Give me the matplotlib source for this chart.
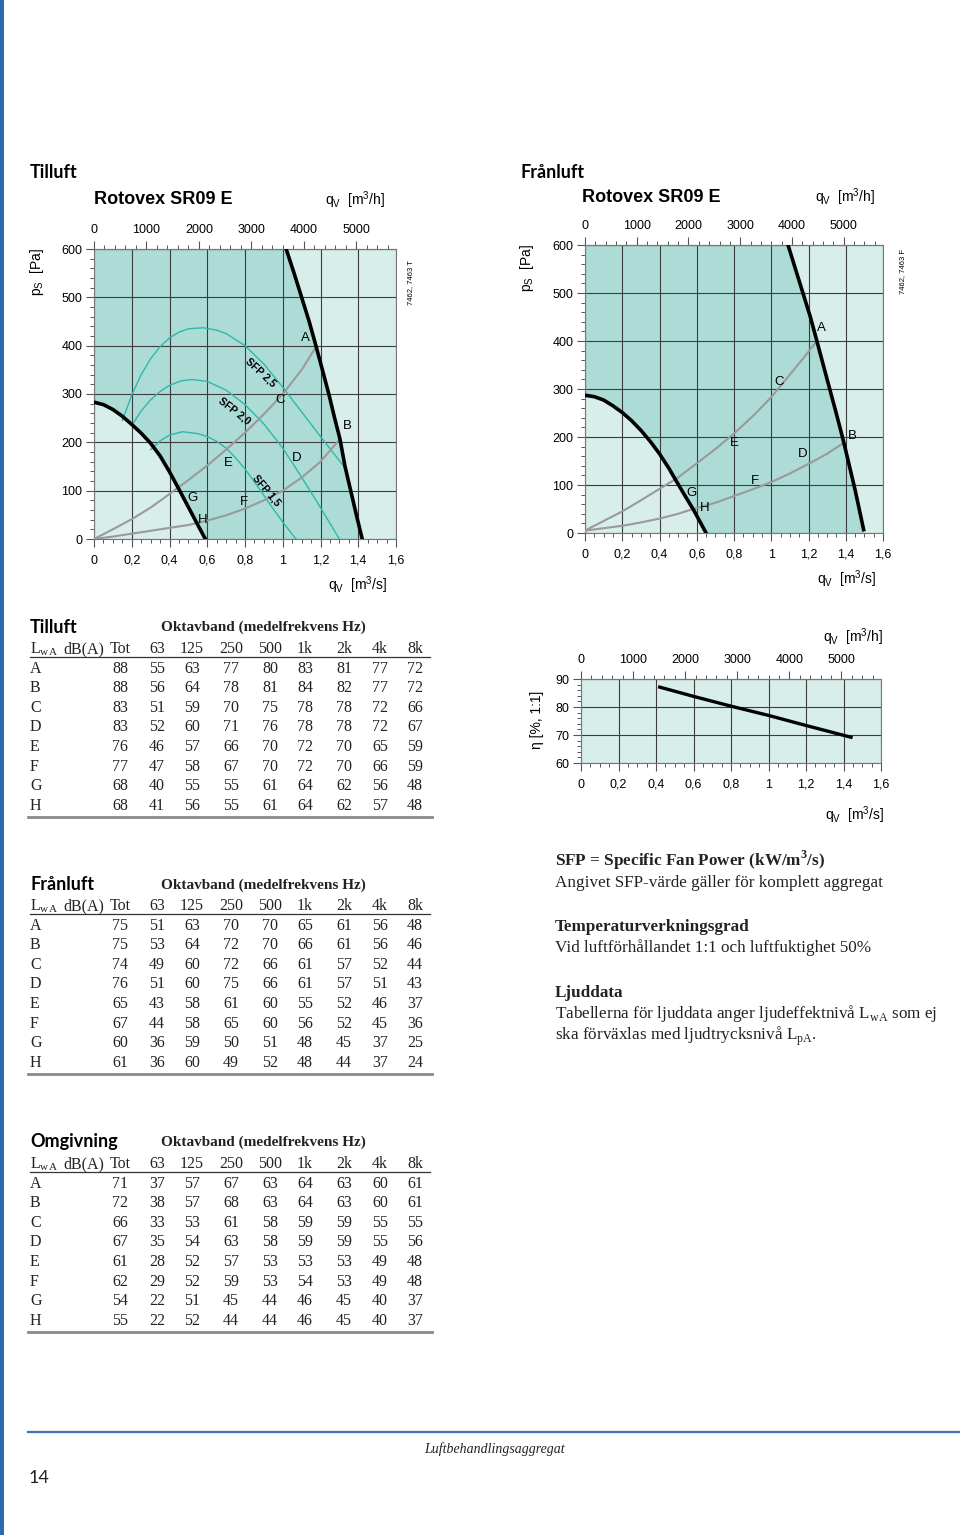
import numpy as np
import matplotlib
matplotlib.use("Agg")
import matplotlib.pyplot as plt
from matplotlib.ticker import MultipleLocator, FixedLocator

W, H = 960, 1535

# ---------------- data read from the page ----------------
# Tilluft fan chart (qv m3/s, ps Pa)
t_left_x = [0, 0.05, 0.1, 0.15, 0.2, 0.25, 0.3, 0.35, 0.4, 0.45, 0.5, 0.55, 0.59]
t_left_y = [283, 278, 268, 254, 237, 219, 198, 172, 139, 103, 66, 29, 0]
t_right_x = [1.018, 1.06, 1.10, 1.14, 1.177, 1.21, 1.244, 1.275, 1.303, 1.33, 1.36, 1.39, 1.421]
t_right_y = [600, 550, 500, 450, 398, 350, 300, 250, 207, 150, 100, 50, 0]
t_sys1_x = [0, 0.1, 0.2, 0.3, 0.4, 0.5, 0.6, 0.7, 0.8, 0.9, 1.0, 1.1, 1.177]
t_sys1_y = [0, 20, 41, 65, 93, 122, 152, 185, 220, 258, 300, 350, 398]
t_sys2_x = [0, 0.1, 0.2, 0.3, 0.4, 0.5, 0.6, 0.7, 0.8, 0.9, 1.0, 1.1, 1.2, 1.303]
t_sys2_y = [0, 5, 11, 17, 23, 29, 38, 49, 63, 80, 100, 127, 160, 207]
sfp25_x = [0.15, 0.2, 0.25, 0.3, 0.35, 0.4, 0.45, 0.5, 0.58, 0.65, 0.7, 0.8, 0.9, 1.0,
           1.1, 1.2, 1.3, 1.34]
sfp25_y = [245, 298, 340, 373, 398, 416, 428, 435, 437, 432, 425, 400, 362, 314,
           263, 212, 162, 142]
sfp20_x = [0.2, 0.25, 0.3, 0.35, 0.4, 0.46, 0.52, 0.6, 0.7, 0.8, 0.9, 1.0, 1.1, 1.2, 1.3]
sfp20_y = [235, 265, 288, 305, 318, 327, 330, 326, 308, 278, 238, 188, 128, 65, 0]
sfp15_x = [0.3, 0.35, 0.4, 0.47, 0.55, 0.6, 0.65, 0.7, 0.75, 0.8, 0.85, 0.9, 0.95, 1.0, 1.07]
sfp15_y = [185, 203, 215, 222, 218, 212, 202, 188, 168, 145, 118, 90, 62, 35, 0]
t_labels = ["A", "B", "C", "D", "E", "F", "G", "H"]
t_label_x = [1.12, 1.34, 0.985, 1.076, 0.713, 0.793, 0.52, 0.577]
t_label_y = [415, 234, 288, 167, 158, 76, 85, 39]

# Frånluft fan chart
f_left_x = [0, 0.05, 0.1, 0.15, 0.2, 0.25, 0.3, 0.35, 0.4, 0.45, 0.48, 0.53, 0.58, 0.6, 0.65]
f_left_y = [287, 284, 277, 265, 251, 234, 214, 191, 165, 135, 115, 82, 50, 36, 0]
f_right_x = [1.09, 1.13, 1.17, 1.21, 1.245, 1.30, 1.35, 1.39, 1.45, 1.496]
f_right_y = [600, 550, 500, 450, 400, 320, 248, 188, 90, 7]
f_sys1_x = [0, 0.1, 0.2, 0.3, 0.4, 0.49, 0.6, 0.7, 0.8, 0.9, 1.0, 1.1, 1.17, 1.245]
f_sys1_y = [5, 25, 45, 68, 92, 113, 145, 175, 207, 243, 283, 330, 363, 400]
f_sys2_x = [0, 0.1, 0.2, 0.3, 0.4, 0.5, 0.58, 0.7, 0.8, 0.9, 1.0, 1.1, 1.2, 1.3, 1.39]
f_sys2_y = [5, 10, 15, 22, 30, 40, 50, 63, 77, 91, 106, 124, 144, 165, 188]
f_label_x = [1.27, 1.434, 1.04, 1.167, 0.80, 0.91, 0.57, 0.64]
f_label_y = [428, 203, 314, 165, 187, 109, 83, 52]

# temperature efficiency
eta_x = [0.42, 0.6, 0.8, 1.0, 1.2, 1.44]
eta_y = [87.1, 83.8, 80.3, 77.0, 73.4, 69.2]

# sound tables
col_heads = ["Tot", "63", "125", "250", "500", "1k", "2k", "4k", "8k"]
rows = ["A", "B", "C", "D", "E", "F", "G", "H"]
tilluft = [[88, 55, 63, 77, 80, 83, 81, 77, 72],
           [88, 56, 64, 78, 81, 84, 82, 77, 72],
           [83, 51, 59, 70, 75, 78, 78, 72, 66],
           [83, 52, 60, 71, 76, 78, 78, 72, 67],
           [76, 46, 57, 66, 70, 72, 70, 65, 59],
           [77, 47, 58, 67, 70, 72, 70, 66, 59],
           [68, 40, 55, 55, 61, 64, 62, 56, 48],
           [68, 41, 56, 55, 61, 64, 62, 57, 48]]
franluft = [[75, 51, 63, 70, 70, 65, 61, 56, 48],
            [75, 53, 64, 72, 70, 66, 61, 56, 46],
            [74, 49, 60, 72, 66, 61, 57, 52, 44],
            [76, 51, 60, 75, 66, 61, 57, 51, 43],
            [65, 43, 58, 61, 60, 55, 52, 46, 37],
            [67, 44, 58, 65, 60, 56, 52, 45, 36],
            [60, 36, 59, 50, 51, 48, 45, 37, 25],
            [61, 36, 60, 49, 52, 48, 44, 37, 24]]
omgivning = [[71, 37, 57, 67, 63, 64, 63, 60, 61],
             [72, 38, 57, 68, 63, 64, 63, 60, 61],
             [66, 33, 53, 61, 58, 59, 59, 55, 55],
             [67, 35, 54, 63, 58, 59, 59, 55, 56],
             [61, 28, 52, 57, 53, 53, 53, 49, 48],
             [62, 29, 52, 59, 53, 54, 53, 49, 48],
             [54, 22, 51, 45, 44, 46, 45, 40, 37],
             [55, 22, 52, 44, 44, 46, 45, 40, 37]]

DARK = "#addcd7"
LIGHT = "#d8eeeb"
TEAL = "#2fb8aa"
GRAY = "#9a9a9a"
GRID = "#3c3c3c"
INK = "#222222"
SANS = "Liberation Sans"
SERIF = "Liberation Serif"
HEAD = "Lato"

fig = plt.figure(figsize=(W / 100, H / 100), dpi=100)


def axes_px(x0, y0, x1, y1):
    return fig.add_axes([x0 / W, 1 - y1 / H, (x1 - x0) / W, (y1 - y0) / H])


def txt(x, y, s, **kw):
    kw.setdefault("va", "center")
    kw.setdefault("ha", "left")
    return fig.text(x / W, 1 - y / H, s, **kw)


def style_axes(ax, ylo, yhi, ystep, yminor):
    ax.set_xlim(0, 1.6)
    ax.set_ylim(ylo, yhi)
    ax.xaxis.set_major_locator(MultipleLocator(0.2))
    ax.xaxis.set_minor_locator(MultipleLocator(0.05))
    ax.yaxis.set_major_locator(MultipleLocator(ystep))
    ax.yaxis.set_minor_locator(MultipleLocator(yminor))
    ax.xaxis.set_major_formatter(
        plt.FuncFormatter(lambda v, p: ("%g" % round(v, 2)).replace(".", ",")))
    ax.grid(True, which="major", color=GRID, lw=0.8)
    for s in ax.spines.values():
        s.set_color("#777777")
        s.set_linewidth(0.8)
    ax.tick_params(which="major", direction="out", length=5.5, width=0.8,
                   color="#555555", labelsize=9, pad=6)
    ax.tick_params(which="minor", direction="out", length=3, width=0.7,
                   color="#555555")
    ax.tick_params(axis="y", pad=3)
    for lab in ax.get_xticklabels() + ax.get_yticklabels():
        lab.set_fontfamily(SANS)
    # m3/h scale on top
    sec = ax.secondary_xaxis("top", functions=(lambda v: v * 3600, lambda v: v / 3600))
    sec.xaxis.set_major_locator(FixedLocator([0, 1000, 2000, 3000, 4000, 5000]))
    sec.xaxis.set_minor_locator(MultipleLocator(200))
    sec.tick_params(which="major", direction="out", length=5.5, width=0.8,
                    color="#555555", labelsize=9, pad=4)
    sec.tick_params(which="minor", direction="out", length=3, width=0.7,
                    color="#555555")
    sec.spines["top"].set_color("#777777")
    for lab in sec.get_xticklabels():
        lab.set_fontfamily(SANS)
    return sec


def fan_chart(box, lx, ly, rx, ry, s1x, s1y, s2x, s2y, labx, laby):
    ax = axes_px(*box)
    ax.set_facecolor(LIGHT)
    # working area between the two fan curves
    px = [0, 0] + list(rx) + [rx[-1], lx[-1]] + list(lx[::-1])
    py = [ly[0], 600] + list(ry) + [0, 0] + list(ly[::-1])
    ax.fill(px, py, color=DARK, lw=0, zorder=0)
    ax.plot(s1x, s1y, color=GRAY, lw=1.5, zorder=3, solid_joinstyle="round")
    ax.plot(s2x, s2y, color=GRAY, lw=1.5, zorder=3, solid_joinstyle="round")
    ax.plot(lx, ly, color="black", lw=2.6, zorder=5, solid_joinstyle="round")
    ax.plot(rx, ry, color="black", lw=2.6, zorder=5, solid_joinstyle="round")
    for s, x, y in zip(t_labels, labx, laby):
        ax.text(x, y, s, fontsize=9.5, family=SANS, ha="center", va="center", zorder=6)
    style_axes(ax, 0, 600, 100, 20)
    return ax


# ---------------- Tilluft chart ----------------
ax1 = fan_chart((94, 249, 396, 539), t_left_x, t_left_y, t_right_x, t_right_y,
                t_sys1_x, t_sys1_y, t_sys2_x, t_sys2_y, t_label_x, t_label_y)
for xs, ys in [(sfp25_x, sfp25_y), (sfp20_x, sfp20_y), (sfp15_x, sfp15_y)]:
    ax1.plot(xs, ys, color=TEAL, lw=1.0, zorder=2, solid_joinstyle="round")
ax1.text(0.883, 344, "SFP 2,5", rotation=-43, fontsize=7.5, weight="bold",
         family=SANS, ha="center", va="center")
ax1.text(0.742, 265, "SFP 2,0", rotation=-38, fontsize=7.5, weight="bold",
         family=SANS, ha="center", va="center")
ax1.text(0.915, 100, "SFP 1,5", rotation=-50, fontsize=7.5, weight="bold",
         family=SANS, ha="center", va="center")

# ---------------- Frånluft chart ----------------
ax2 = fan_chart((585, 245, 883, 533), f_left_x, f_left_y, f_right_x, f_right_y,
                f_sys1_x, f_sys1_y, f_sys2_x, f_sys2_y, f_label_x, f_label_y)

# ---------------- efficiency chart ----------------
ax3 = axes_px(581, 679, 881, 763)
ax3.set_facecolor(LIGHT)
ax3.plot(eta_x, eta_y, color="black", lw=2.4)
style_axes(ax3, 60, 90, 10, 2)

# ---------------- chart texts ----------------
qh = r"q$_\mathregular{V}$  [m$^\mathregular{3}$/h]"
qs = r"q$_\mathregular{V}$  [m$^\mathregular{3}$/s]"
ps = r"p$_\mathregular{S}$  [Pa]"
txt(30, 172, "Tilluft", fontsize=13, weight="bold", family=HEAD)
txt(520, 172, "Frånluft", fontsize=13, weight="bold", family=HEAD)
txt(94, 200, "Rotovex SR09 E", fontsize=13, weight="bold", family=SANS)
txt(582, 197, "Rotovex SR09 E", fontsize=13, weight="bold", family=SANS)
txt(325, 200, qh, fontsize=10, family=SANS)
txt(815, 197, qh, fontsize=10, family=SANS)
txt(328, 585, qs, fontsize=10, family=SANS)
txt(817, 579, qs, fontsize=10, family=SANS)
txt(823, 637, qh, fontsize=10, family=SANS)
txt(825, 815, qs, fontsize=10, family=SANS)
txt(37, 272, ps, fontsize=10, family=SANS, rotation=90, ha="center")
txt(527, 268, ps, fontsize=10, family=SANS, rotation=90, ha="center")
txt(537, 720, "η [%, 1:1]", fontsize=10, family=SANS, rotation=90, ha="center")
txt(411, 283, "7462, 7463 T", fontsize=5.5, family=SANS, rotation=90, ha="center")
txt(903, 272, "7462, 7463 F", fontsize=5.5, family=SANS, rotation=90, ha="center")

# ---------------- sound tables ----------------
col_x = [120, 157, 192, 231, 270, 305, 344, 380, 415]


def sound_table(title, y_title, y_head, vals):
    txt(30, y_title, title, fontsize=13, weight="bold", family=HEAD)
    txt(263, y_title, "Oktavband (medelfrekvens Hz)", fontsize=11, weight="bold",
        family=SERIF, ha="center", color=INK)
    txt(30, y_head, r"L$_\mathregular{wA}$", fontsize=11.5, family=SERIF, color=INK)
    txt(63, y_head, "dB(A)", fontsize=11.5, family=SERIF, color=INK)
    for cx, h in zip(col_x, col_heads):
        txt(cx, y_head, h, fontsize=11.5, family=SERIF, ha="center", color=INK)
    fig.add_artist(plt.Line2D([30 / W, 430 / W], [1 - (y_head + 8) / H] * 2,
                              color="#333333", lw=0.9))
    step = 19.6
    for i, (r, v) in enumerate(zip(rows, vals)):
        y = y_head + step * (i + 1)
        txt(30, y, r, fontsize=11.5, family=SERIF, color=INK)
        for cx, n in zip(col_x, v):
            txt(cx, y, str(n), fontsize=11.5, family=SERIF, ha="center", color=INK)
    yb = y_head + step * 8 + 11
    fig.add_artist(plt.Line2D([28 / W, 432 / W], [1 - yb / H] * 2,
                              color="#8a8a8a", lw=2))


sound_table("Tilluft", 627, 649, tilluft)
sound_table("Frånluft", 885, 906, franluft)
sound_table("Omgivning", 1142, 1164, omgivning)

# ---------------- notes ----------------
NS = 12.3
txt(555, 860, r"SFP = Specific Fan Power (kW/m$^\mathregular{3}$/s)", fontsize=NS,
    weight="bold", family=SERIF, color=INK)
txt(555, 883, "Angivet SFP-värde gäller för komplett aggregat", fontsize=NS, family=SERIF,
    color=INK)
txt(555, 927, "Temperaturverkningsgrad", fontsize=NS, weight="bold", family=SERIF, color=INK)
txt(555, 948, "Vid luftförhållandet 1:1 och luftfuktighet 50%", fontsize=NS, family=SERIF,
    color=INK)
txt(555, 993, "Ljuddata", fontsize=NS, weight="bold", family=SERIF, color=INK)
txt(555, 1014, r"Tabellerna för ljuddata anger ljudeffektnivå L$_\mathregular{wA}$ som ej",
    fontsize=NS, family=SERIF, color=INK)
txt(555, 1036, r"ska förväxlas med ljudtrycksnivå L$_\mathregular{pA}$.", fontsize=NS,
    family=SERIF, color=INK)

# ---------------- page furniture ----------------
fig.add_artist(plt.Line2D([28 / W, 1.0], [1 - 1432 / H] * 2, color="#3b75ad", lw=1.6))
fig.add_artist(plt.Rectangle((0, 0), 4 / W, 1, color="#2b6cab", lw=0))
txt(494, 1449, "Luftbehandlingsaggregat", fontsize=10, style="italic", family=SERIF,
    ha="center", color=INK)
txt(29, 1478, "14", fontsize=13, family=HEAD, color=INK)

fig.savefig("out.png", dpi=100)
